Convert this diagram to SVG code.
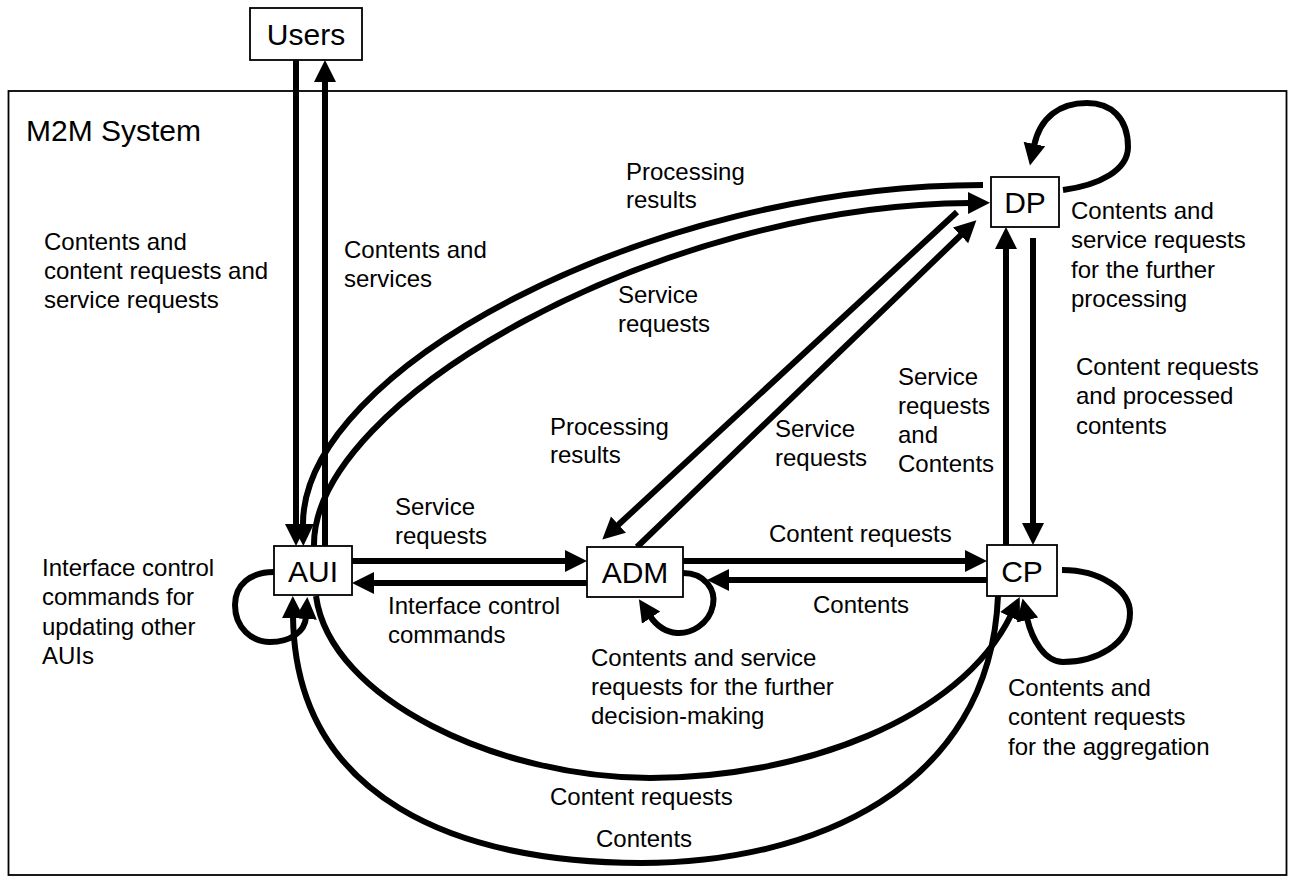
<svg xmlns="http://www.w3.org/2000/svg" width="1294" height="880" viewBox="0 0 1294 880">
  <style>
    .frame { fill: none; stroke: #000; stroke-width: 1.8; }
    .box { fill: #fff; stroke: #000; stroke-width: 1.8; }
    .node-label { font-family: "Liberation Sans", Arial, sans-serif; font-size: 30px; fill: #000; text-anchor: middle; }
    .title { font-family: "Liberation Sans", Arial, sans-serif; font-size: 30px; fill: #000; }
    .lbl { font-family: "Liberation Sans", Arial, sans-serif; font-size: 24px; fill: #000; }
    .flow { fill: none; stroke: #000; stroke-width: 6; marker-end: url(#ah); }
  </style>
  <defs>
    <marker id="ah" viewBox="0 -12 24 24" refX="2" refY="0" markerWidth="24" markerHeight="24" markerUnits="userSpaceOnUse" orient="auto">
      <path d="M0,-11 L22,0 L0,11 z" fill="#000"/>
    </marker>
  </defs>

  <rect width="1294" height="880" fill="#fff"/>

  <!-- system boundary -->
  <g id="m2m-system">
    <rect class="frame" x="8.5" y="91" width="1278" height="784"/>
    <text class="title" x="26" y="141">M2M System</text>
  </g>

  <!-- connectors -->
  <g id="connectors">
    <!-- Users <-> AUI -->
    <path class="flow" d="M296 60 V526"/>
    <path class="flow" d="M325 546 V80"/>
    <!-- AUI <-> ADM -->
    <path class="flow" d="M352 561 H567"/>
    <path class="flow" d="M587 583 H372"/>
    <!-- ADM <-> CP -->
    <path class="flow" d="M683 561 H967"/>
    <path class="flow" d="M987 580 H727"/>
    <!-- CP <-> DP -->
    <path class="flow" d="M1006 545 V247"/>
    <path class="flow" d="M1033 238 V525"/>
    <!-- DP self loop -->
    <path class="flow" d="M1063 190 C1100 185 1128 170 1128 147 C1128 117 1110 103 1087 103 C1060 103 1040 117 1034 146"/>
    <!-- DP -> AUI and AUI -> DP long arcs -->
    <path class="flow" d="M983 185 C650 185 300 370 303 526"/>
    <path class="flow" d="M314 546 C312 400 660 205 970 203"/>
    <!-- DP <-> ADM diagonals -->
    <path class="flow" d="M957 212 L617 526"/>
    <path class="flow" d="M637 547 L962 234"/>
    <!-- ADM self loop -->
    <path class="flow" d="M683 573 C705 573 716 590 713 605 C709 625 690 634 677 633 C665 632 656 625 650 616"/>
    <!-- CP self loop -->
    <path class="flow" d="M1062 570 C1100 570 1130 590 1130 613 C1130 645 1095 662 1063 662 C1045 662 1032 640 1027 618"/>
    <!-- AUI self loop -->
    <path class="flow" d="M274 572 C250 572 235 585 235 605 C235 628 252 642 270 642 C290 642 305 632 306 617"/>
    <!-- AUI -> CP lower arcs -->
    <path class="flow" d="M316 596 C330 700 500 778 650 778 C800 778 960 720 1011 615"/>
    <path class="flow" d="M998 596 C990 790 810 863 641 863 C460 863 295 800 293 616"/>
  </g>

  <!-- nodes -->
  <g id="users">
    <rect class="box" x="250" y="8" width="112" height="52"/>
    <text class="node-label" x="306" y="45">Users</text>
  </g>
  <g id="aui">
    <rect class="box" x="274" y="546" width="78" height="49"/>
    <text class="node-label" x="313" y="582">AUI</text>
  </g>
  <g id="adm">
    <rect class="box" x="587" y="547" width="96" height="50"/>
    <text class="node-label" x="635" y="583">ADM</text>
  </g>
  <g id="cp">
    <rect class="box" x="987" y="545" width="70" height="51"/>
    <text class="node-label" x="1022" y="582">CP</text>
  </g>
  <g id="dp">
    <rect class="box" x="991" y="177" width="68" height="50"/>
    <text class="node-label" x="1025" y="213">DP</text>
  </g>

  <!-- flow labels -->
  <g id="labels" class="lbl">
    <text class="lbl" x="44" y="250">Contents and</text>
    <text class="lbl" x="44" y="279">content requests and</text>
    <text class="lbl" x="44" y="308">service requests</text>

    <text class="lbl" x="344" y="258">Contents and</text>
    <text class="lbl" x="344" y="287">services</text>

    <text class="lbl" x="626" y="180">Processing</text>
    <text class="lbl" x="626" y="208">results</text>

    <text class="lbl" x="618" y="303">Service</text>
    <text class="lbl" x="618" y="332">requests</text>

    <text class="lbl" x="550" y="435">Processing</text>
    <text class="lbl" x="550" y="463">results</text>

    <text class="lbl" x="775" y="437">Service</text>
    <text class="lbl" x="775" y="466">requests</text>

    <text class="lbl" x="898" y="385">Service</text>
    <text class="lbl" x="898" y="414">requests</text>
    <text class="lbl" x="898" y="443">and</text>
    <text class="lbl" x="898" y="472">Contents</text>

    <text class="lbl" x="1071" y="219">Contents and</text>
    <text class="lbl" x="1071" y="248">service requests</text>
    <text class="lbl" x="1071" y="278">for the further</text>
    <text class="lbl" x="1071" y="307">processing</text>

    <text class="lbl" x="1076" y="375">Content requests</text>
    <text class="lbl" x="1076" y="404">and processed</text>
    <text class="lbl" x="1076" y="434">contents</text>

    <text class="lbl" x="395" y="515">Service</text>
    <text class="lbl" x="395" y="544">requests</text>

    <text class="lbl" x="769" y="542">Content requests</text>

    <text class="lbl" x="388" y="614">Interface control</text>
    <text class="lbl" x="388" y="643">commands</text>

    <text class="lbl" x="813" y="613">Contents</text>

    <text class="lbl" x="42" y="576">Interface control</text>
    <text class="lbl" x="42" y="605">commands for</text>
    <text class="lbl" x="42" y="635">updating other</text>
    <text class="lbl" x="42" y="664">AUIs</text>

    <text class="lbl" x="591" y="666">Contents and service</text>
    <text class="lbl" x="591" y="695">requests for the further</text>
    <text class="lbl" x="591" y="724">decision-making</text>

    <text class="lbl" x="1008" y="696">Contents and</text>
    <text class="lbl" x="1008" y="725">content requests</text>
    <text class="lbl" x="1008" y="755">for the aggregation</text>

    <text class="lbl" x="550" y="805">Content requests</text>
    <text class="lbl" x="596" y="847">Contents</text>
  </g>
</svg>
